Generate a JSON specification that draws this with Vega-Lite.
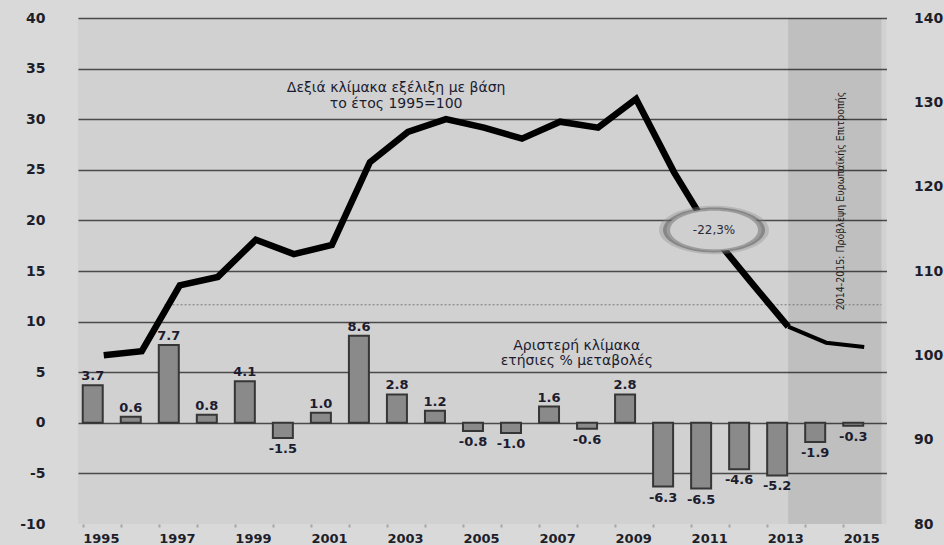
{
  "$schema": "https://vega.github.io/schema/vega-lite/v6.json",
  "width": 808.5,
  "height": 506,
  "autosize": {"type": "none"},
  "padding": {"left": 78, "top": 18, "right": 57.5, "bottom": 21},
  "background": "#d9d9d9",
  "config": {
    "view": {"fill": "#d1d1d1", "stroke": null},
    "font": "DejaVu Sans",
    "locale": {"number": {"decimal": ".", "thousands": ",", "grouping": [3], "currency": ["", ""], "minus": "-"}}
  },
  "datasets": {
    "bars": [
      {"year": 1995, "pct": 3.7}, {"year": 1996, "pct": 0.6}, {"year": 1997, "pct": 7.7},
      {"year": 1998, "pct": 0.8}, {"year": 1999, "pct": 4.1}, {"year": 2000, "pct": -1.5},
      {"year": 2001, "pct": 1.0}, {"year": 2002, "pct": 8.6}, {"year": 2003, "pct": 2.8},
      {"year": 2004, "pct": 1.2}, {"year": 2005, "pct": -0.8}, {"year": 2006, "pct": -1.0},
      {"year": 2007, "pct": 1.6}, {"year": 2008, "pct": -0.6}, {"year": 2009, "pct": 2.8},
      {"year": 2010, "pct": -6.3}, {"year": 2011, "pct": -6.5}, {"year": 2012, "pct": -4.6},
      {"year": 2013, "pct": -5.2}, {"year": 2014, "pct": -1.9}, {"year": 2015, "pct": -0.3}
    ],
    "idx": [
      {"year": 1995, "index": 100.0}, {"year": 1996, "index": 100.5}, {"year": 1997, "index": 108.3},
      {"year": 1998, "index": 109.3}, {"year": 1999, "index": 113.7}, {"year": 2000, "index": 112.0},
      {"year": 2001, "index": 113.1}, {"year": 2002, "index": 122.9}, {"year": 2003, "index": 126.5},
      {"year": 2004, "index": 128.0}, {"year": 2005, "index": 127.0}, {"year": 2006, "index": 125.7},
      {"year": 2007, "index": 127.7}, {"year": 2008, "index": 127.0}, {"year": 2009, "index": 130.4},
      {"year": 2010, "index": 121.7}, {"year": 2011, "index": 114.3}, {"year": 2012, "index": 108.8},
      {"year": 2013, "index": 103.4}
    ],
    "fc": [
      {"year": 2013, "index": 103.4}, {"year": 2014, "index": 101.5}, {"year": 2015, "index": 101.0}
    ],
    "span": [{"year": 2013, "end": 2015.4545}],
    "ref": [{"year": 1996.6, "end": 2015.4545, "index": 106.0}],
    "bubble": [{"year": 2011.05, "index": 114.86, "label": "-22,3%"}],
    "noteL": [{"year": 2007.44, "pct": 7.6, "label": "Αριστερή κλίμακα\nετήσιες % μεταβολές"}],
    "noteR": [
      {"year": 2002.69, "index": 131.7, "label": "Δεξιά κλίμακα εξέλιξη με βάση\nτο έτος 1995=100"}
    ],
    "noteV": [{"year": 2014.4, "index": 118.3, "label": "2014-2015: Πρόβλεψη Ευρωπαϊκής Επιτροπής"}]
  },
  "encoding": {
    "x": {
      "field": "year",
      "type": "quantitative",
      "scale": {"domain": [1994.4545, 2015.4545], "nice": false, "zero": false},
      "axis": {
        "values": [1995, 1996, 1997, 1998, 1999, 2000, 2001, 2002, 2003, 2004, 2005, 2006, 2007, 2008, 2009, 2010, 2011, 2012, 2013, 2014, 2015],
        "labelExpr": "datum.value % 2 === 1 ? '' + datum.value : ''",
        "tickOffset": -21,
        "labelAlign": "left",
        "labelBaseline": "top",
        "labelPadding": 5,
        "labelDx": -3,
        "tickSize": 3,
        "tickWidth": 2,
        "tickColor": "#a5a5a5",
        "domain": false,
        "grid": false,
        "labelFontSize": 13,
        "labelFontWeight": "bold",
        "labelColor": "#1e1e2a",
        "labelOverlap": false,
        "title": null
      }
    }
  },
  "layer": [
    {
      "data": {"name": "span"},
      "mark": {"type": "rect", "fill": "#000000", "fillOpacity": 0.085},
      "encoding": {"x2": {"field": "end"}}
    },
    {
      "encoding": {
        "y": {
          "field": "pct",
          "type": "quantitative",
          "scale": {"domain": [-10, 40], "nice": false, "zero": false},
          "axis": {
            "values": [-10, -5, 0, 5, 10, 15, 20, 25, 30, 35, 40],
            "grid": true,
            "gridColor": {"condition": {"test": "datum.value === -10", "value": "transparent"}, "value": "#4a4a4a"},
            "gridWidth": 1.5,
            "domain": false,
            "ticks": false,
            "labelPadding": 33,
            "labelFontSize": 14,
            "labelFontWeight": "bold",
            "labelColor": "#1e1e2a",
            "title": null
          }
        }
      },
      "layer": [
        {
          "data": {"name": "bars"},
          "mark": {"type": "bar", "orient": "vertical", "width": 20, "xOffset": -11, "fill": "#8a8a8a", "stroke": "#363636", "strokeWidth": 2}
        },
        {
          "data": {"name": "bars"},
          "transform": [{"filter": "datum.pct >= 0"}],
          "mark": {"type": "text", "xOffset": -11, "dy": -5, "baseline": "alphabetic", "align": "center", "fontSize": 13, "fontWeight": "bold", "color": "#1c1c30"},
          "encoding": {"text": {"field": "pct", "type": "quantitative", "format": ".1f"}}
        },
        {
          "data": {"name": "bars"},
          "transform": [{"filter": "datum.pct < 0"}],
          "mark": {"type": "text", "xOffset": -11, "dy": 5, "baseline": "top", "align": "center", "fontSize": 13, "fontWeight": "bold", "color": "#1c1c30"},
          "encoding": {"text": {"field": "pct", "type": "quantitative", "format": ".1f"}}
        },
        {
          "data": {"name": "noteL"},
          "mark": {"type": "text", "lineBreak": "\n", "lineHeight": 15, "align": "center", "baseline": "middle", "fontSize": 14, "color": "#1c1c30"},
          "encoding": {"text": {"field": "label"}}
        }
      ]
    },
    {
      "encoding": {
        "y": {
          "field": "index",
          "type": "quantitative",
          "scale": {"domain": [80, 140], "nice": false, "zero": false},
          "axis": {
            "orient": "right",
            "values": [80, 90, 100, 110, 120, 130, 140],
            "grid": false,
            "domain": false,
            "ticks": false,
            "labelPadding": 27,
            "labelAlign": "left",
            "labelFontSize": 14,
            "labelFontWeight": "bold",
            "labelColor": "#1e1e2a",
            "title": null
          }
        }
      },
      "layer": [
        {
          "data": {"name": "ref"},
          "mark": {"type": "rule", "stroke": "#7a7a7a", "strokeWidth": 1.2, "strokeDash": [2, 2]},
          "encoding": {"x2": {"field": "end"}}
        },
        {
          "data": {"name": "idx"},
          "mark": {"type": "line", "stroke": "#000000", "strokeWidth": 6.5, "strokeJoin": "miter"}
        },
        {
          "data": {"name": "fc"},
          "mark": {"type": "line", "stroke": "#000000", "strokeWidth": 4, "strokeJoin": "miter"}
        },
        {
          "data": {"name": "bubble"},
          "mark": {"type": "point", "filled": true, "fill": "#8a8a8a", "opacity": 0.35, "size": 12100, "shape": "M -1 0 C -1 -0.243 -0.552 -0.44 0 -0.44 C 0.552 -0.44 1 -0.243 1 0 C 1 0.243 0.552 0.44 0 0.44 C -0.552 0.44 -1 0.243 -1 0 Z"}
        },
        {
          "data": {"name": "bubble"},
          "mark": {"type": "point", "filled": true, "fill": "#5e5e5e", "opacity": 0.55, "size": 10404, "shape": "M -1 0 C -1 -0.243 -0.552 -0.44 0 -0.44 C 0.552 -0.44 1 -0.243 1 0 C 1 0.243 0.552 0.44 0 0.44 C -0.552 0.44 -1 0.243 -1 0 Z"}
        },
        {
          "data": {"name": "bubble"},
          "mark": {"type": "point", "filled": true, "fill": "#9c9c9c", "opacity": 1, "size": 9025, "shape": "M -1 0 C -1 -0.243 -0.552 -0.44 0 -0.44 C 0.552 -0.44 1 -0.243 1 0 C 1 0.243 0.552 0.44 0 0.44 C -0.552 0.44 -1 0.243 -1 0 Z"}
        },
        {
          "data": {"name": "bubble"},
          "mark": {"type": "point", "filled": true, "fill": "#cfcfcf", "opacity": 1, "size": 7744, "shape": "M -1 0 C -1 -0.243 -0.552 -0.44 0 -0.44 C 0.552 -0.44 1 -0.243 1 0 C 1 0.243 0.552 0.44 0 0.44 C -0.552 0.44 -1 0.243 -1 0 Z"}
        },
        {
          "data": {"name": "bubble"},
          "mark": {"type": "text", "align": "center", "baseline": "middle", "fontSize": 12, "color": "#2a2a3a"},
          "encoding": {"text": {"field": "label"}}
        },
        {
          "data": {"name": "noteR"},
          "mark": {"type": "text", "lineBreak": "\n", "lineHeight": 16, "align": "center", "baseline": "middle", "fontSize": 14, "color": "#1c1c30"},
          "encoding": {"text": {"field": "label"}}
        },
        {
          "data": {"name": "noteV"},
          "mark": {"type": "text", "angle": 270, "align": "center", "baseline": "middle", "fontSize": 10.5, "font": "Liberation Sans Narrow, DejaVu Sans Condensed, sans-serif", "color": "#1c1c1c"},
          "encoding": {"text": {"field": "label"}}
        }
      ]
    }
  ],
  "resolve": {"scale": {"y": "independent"}, "axis": {"y": "independent"}}
}
